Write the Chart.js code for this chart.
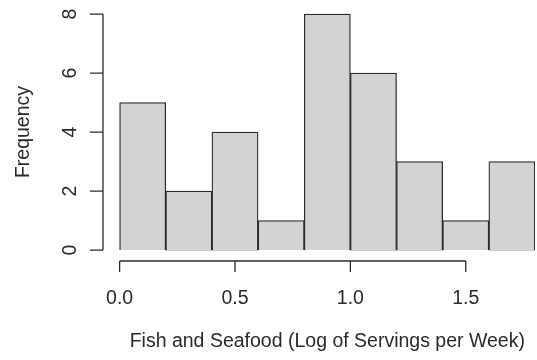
<!DOCTYPE html>
<html>
<head>
<meta charset="utf-8">
<script src="https://cdn.jsdelivr.net/npm/chart.js@4"></script>
<style>
  html, body { margin: 0; padding: 0; background: #fff; }
  #wrap { width: 537px; height: 360px; }
</style>
</head>
<body>
<div id="wrap"><canvas id="histChart"></canvas></div>
<script>
// histogram bins (log servings per week) and counts
const binEdges = [0, 0.2, 0.4, 0.6, 0.8, 1.0, 1.2, 1.4, 1.6, 1.8];
const counts = [5, 2, 4, 1, 8, 6, 3, 1, 3];
const xTicks = [0, 0.5, 1.0, 1.5];
const yTicks = [0, 2, 4, 6, 8];
const xTitle = 'Fish and Seafood (Log of Servings per Week)';
const yTitle = 'Frequency';

const FONT = '19.5px "Liberation Sans", Arial, sans-serif';
const INK = '#2a2a2a';

const bars = counts.map((c, i) => ({ x: (binEdges[i] + binEdges[i + 1]) / 2, y: c }));

// base-graphics style axes: line spans first..last tick, detached from the bars
const rAxes = {
    id: 'rAxes',
    afterDraw(chart) {
        const { ctx, chartArea, scales } = chart;
        const x = scales.x, y = scales.y;
        const tick = 11;
        ctx.save();
        ctx.strokeStyle = INK;
        ctx.lineWidth = 1.3;
        ctx.fillStyle = INK;
        ctx.font = FONT;

        // x axis
        const ax = chartArea.bottom + 1.5;
        const x0 = x.getPixelForValue(xTicks[0]);
        const x1 = x.getPixelForValue(xTicks[xTicks.length - 1]);
        ctx.beginPath();
        ctx.moveTo(x0, ax);
        ctx.lineTo(x1, ax);
        xTicks.forEach(v => {
            const px = x.getPixelForValue(v);
            ctx.moveTo(px, ax);
            ctx.lineTo(px, ax + tick);
        });
        ctx.stroke();
        ctx.textAlign = 'center';
        ctx.textBaseline = 'alphabetic';
        xTicks.forEach(v => {
            ctx.fillText(v.toFixed(1), x.getPixelForValue(v), 304);
        });
        ctx.fillText(xTitle, (x.getPixelForValue(binEdges[0]) + x.getPixelForValue(binEdges[binEdges.length - 1])) / 2, 347);

        // y axis
        const ay = chartArea.left;
        const y0 = y.getPixelForValue(yTicks[0]);
        const y1 = y.getPixelForValue(yTicks[yTicks.length - 1]);
        ctx.beginPath();
        ctx.moveTo(ay, y0);
        ctx.lineTo(ay, y1);
        yTicks.forEach(v => {
            const py = y.getPixelForValue(v);
            ctx.moveTo(ay, py);
            ctx.lineTo(ay - 13, py);
        });
        ctx.stroke();
        yTicks.forEach(v => {
            ctx.save();
            ctx.translate(75.5, y.getPixelForValue(v));
            ctx.rotate(-Math.PI / 2);
            ctx.fillText(String(v), 0, 0);
            ctx.restore();
        });
        ctx.save();
        ctx.translate(29, (chartArea.top + chartArea.bottom) / 2);
        ctx.rotate(-Math.PI / 2);
        ctx.fillText(yTitle, 0, 0);
        ctx.restore();
        ctx.restore();
    }
};

new Chart(document.getElementById('histChart'), {
    type: 'bar',
    data: {
        datasets: [{
            label: yTitle,
            data: bars,
            backgroundColor: '#d3d3d3',
            borderColor: '#2a2a2a',
            borderWidth: 1.3,
            barPercentage: 1,
            categoryPercentage: 1
        }]
    },
    options: {
        responsive: true,
        maintainAspectRatio: false,
        animation: false,
        layout: { padding: { left: 103, right: 2, top: 4.6, bottom: 100.5 } },
        plugins: { legend: { display: false }, tooltip: { enabled: false } },
        scales: {
            x: { type: 'linear', display: false, min: -0.072, max: 1.8, offset: false },
            y: { type: 'linear', display: false, min: -0.32, max: 8.32 }
        }
    },
    plugins: [rAxes]
});
</script>
</body>
</html>
